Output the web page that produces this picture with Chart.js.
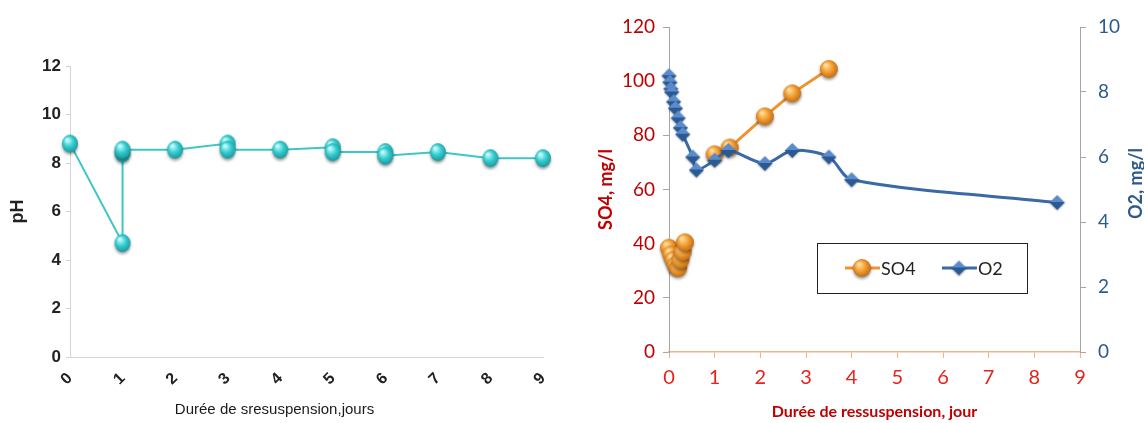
<!DOCTYPE html>
<html lang="fr">
<head>
<meta charset="UTF-8">
<title>pH, SO4 et O2 pendant la ressuspension</title>
<script src="https://cdn.jsdelivr.net/npm/chart.js"></script>
<style>
    html, body { margin: 0; padding: 0; background: #fff; }
    body { width: 1144px; height: 423px; position: relative; overflow: hidden; }
    .graph { position: absolute; top: 0; height: 423px; }
    #g1 { left: 0; width: 570px; }
    #g2 { left: 570px; width: 574px; }
</style>
</head>
<body>
<div class="graph" id="g1"><canvas id="graphique-ph"></canvas></div>
<div class="graph" id="g2"><canvas id="graphique-so4-o2"></canvas></div>
<script>
    // Données : pH
    const joursPh = [0, 1, 1, 1, 2, 3, 3, 4, 5, 5, 6, 6, 7, 8, 9];
    const valeursPh = [8.8, 4.7, 8.4, 8.55, 8.55, 8.8, 8.55, 8.55, 8.65, 8.45, 8.45, 8.3, 8.45, 8.2, 8.2];
    const ticksPh = [0, 2, 4, 6, 8, 10, 12];

    // Données : SO4 (null = coupure de la courbe)
    const joursSO4 = [0, 0.05, 0.1, 0.15, 0.2, 0.25, 0.3, 0.35, 0.6, 1.0, 1.33, 2.1, 2.7, 3.5];
    const valeursSO4 = [38.5, 36, 34, 32, 31, 34, 37, 40.5, null, 73, 75.5, 87, 95.5, 104.5];

    // Données : O2
    const joursO2 = [0, 0.02, 0.04, 0.06, 0.1, 0.14, 0.2, 0.25, 0.3, 0.52, 0.6, 1.0, 1.3, 2.1, 2.7, 3.5, 4.0, 8.5];
    const valeursO2 = [8.5, 8.3, 8.1, 8.0, 7.7, 7.5, 7.2, 6.9, 6.7, 6.0, 5.6, 5.9, 6.2, 5.8, 6.2, 6.0, 5.3, 4.6];

    const etiquettesLegende = ["SO4", "O2"];

    // Marqueurs : petites images dessinées une fois
    function creerSphere(largeur, hauteur, clair, moyen, fonce) {
        const marge = 4;
        const c = document.createElement("canvas");
        c.width = largeur + 2 * marge;
        c.height = hauteur + 2 * marge;
        const ctx = c.getContext("2d");
        const cx = c.width / 2, cy = c.height / 2;
        ctx.shadowColor = "rgba(0,0,0,0.4)";
        ctx.shadowBlur = 3;
        ctx.shadowOffsetY = 2;
        const g = ctx.createRadialGradient(cx - largeur * 0.18, cy - hauteur * 0.22, 0.5, cx, cy, Math.max(largeur, hauteur) * 0.6);
        g.addColorStop(0, clair);
        g.addColorStop(0.45, moyen);
        g.addColorStop(1, fonce);
        ctx.fillStyle = g;
        ctx.beginPath();
        ctx.ellipse(cx, cy, largeur / 2, hauteur / 2, 0, 0, Math.PI * 2);
        ctx.fill();
        return c;
    }

    function creerLosange(largeur, hauteur, haut, bas) {
        const marge = 4;
        const c = document.createElement("canvas");
        c.width = largeur + 2 * marge;
        c.height = hauteur + 2 * marge;
        const ctx = c.getContext("2d");
        const cx = c.width / 2, cy = c.height / 2;
        ctx.shadowColor = "rgba(0,0,0,0.3)";
        ctx.shadowBlur = 2;
        ctx.shadowOffsetY = 1;
        const g = ctx.createLinearGradient(0, cy - hauteur / 2, 0, cy + hauteur / 2);
        g.addColorStop(0, haut);
        g.addColorStop(0.5, haut);
        g.addColorStop(0.5, bas);
        g.addColorStop(1, bas);
        ctx.fillStyle = g;
        ctx.beginPath();
        ctx.moveTo(cx, cy - hauteur / 2);
        ctx.lineTo(cx + largeur / 2, cy);
        ctx.lineTo(cx, cy + hauteur / 2);
        ctx.lineTo(cx - largeur / 2, cy);
        ctx.closePath();
        ctx.fill();
        return c;
    }

    const sphereCyan = creerSphere(16, 18, "#d0ffff", "#36cdd0", "#10868c");
    const sphereOrange = creerSphere(18, 18, "#ffe3a8", "#f5a035", "#b35e0c");
    const losangeBleu = creerLosange(15, 15, "#5a8bcb", "#2b5993");

    function points(xs, ys) {
        return xs.map((x, i) => ({ x: x, y: ys[i] }));
    }

    // Titre de l'axe x du graphique pH (décalé vers la gauche comme l'original)
    const titrePh = {
        id: "titrePh",
        afterDraw(chart) {
            const { ctx, chartArea: a } = chart;
            ctx.save();
            ctx.font = "15px 'Liberation Sans', Arial, sans-serif";
            ctx.fillStyle = "#1a1a1a";
            ctx.textAlign = "center";
            ctx.textBaseline = "middle";
            ctx.fillText("Durée de sresuspension,jours", (a.left + a.right) / 2 - 32, 410);
            ctx.restore();
        }
    };

    // Graphique 1 : pH
    new Chart(document.getElementById("graphique-ph"), {
        type: "scatter",
        data: {
            datasets: [{
                data: points(joursPh, valeursPh),
                showLine: true,
                borderColor: "#3cc6c6",
                borderWidth: 2,
                pointStyle: sphereCyan,
                pointRadius: 8,
                clip: false,
            }],
        },
        options: {
            responsive: true,
            maintainAspectRatio: false,
            animation: false,
            layout: { padding: { top: 66, right: 27, left: 0, bottom: 0 } },
            plugins: { legend: { display: false }, tooltip: { enabled: false } },
            scales: {
                x: {
                    type: "linear",
                    min: 0,
                    max: 9,
                    afterFit: s => { s.height = 66; },
                    ticks: {
                        stepSize: 1,
                        minRotation: 45,
                        maxRotation: 45,
                        padding: 12,
                        color: "#222",
                        font: { family: "'Liberation Sans', sans-serif", size: 16, weight: "bold" },
                    },
                    grid: { drawOnChartArea: false, drawTicks: false },
                    border: { color: "#d4d4d4", width: 1 },
                },
                y: {
                    min: 0,
                    max: 12,
                    afterFit: s => { s.width = 70; },
                    afterBuildTicks: s => { s.ticks = ticksPh.map(v => ({ value: v })); },
                    ticks: {
                        padding: 5,
                        color: "#222",
                        font: { family: "'Liberation Sans Narrow', 'Liberation Sans', sans-serif", size: 17, weight: "bold" },
                    },
                    grid: { drawOnChartArea: false, tickLength: 4, color: "#d4d4d4" },
                    border: { color: "#d4d4d4", width: 1 },
                    title: {
                        display: true,
                        text: "pH",
                        color: "#222",
                        padding: { top: 7, bottom: 0 },
                        font: { family: "'Liberation Sans', Arial, sans-serif", size: 18, weight: "bold" },
                    },
                },
            },
        },
        plugins: [titrePh],
    });

    // Légende et titre de l'axe O2 du graphique 2
    const legendeSO4O2 = {
        id: "legendeSO4O2",
        afterDraw(chart) {
            const { ctx, chartArea: a } = chart;
            const w = a.right - a.left, h = a.bottom - a.top;
            const x0 = a.left + 0.36 * w, x1 = a.left + 0.871 * w;
            const y0 = a.top + 0.665 * h, y1 = a.top + 0.818 * h;
            const yc = (y0 + y1) / 2;
            ctx.save();
            ctx.fillStyle = "#fff";
            ctx.fillRect(x0, y0, x1 - x0, y1 - y0);
            ctx.strokeStyle = "#222";
            ctx.lineWidth = 1;
            ctx.strokeRect(Math.round(x0) + 0.5, Math.round(y0) + 0.5, Math.round(x1 - x0), Math.round(y1 - y0));
            ctx.font = "18px Lato, sans-serif";
            ctx.textBaseline = "middle";
            const decalages = [28, 125];
            chart.data.datasets.forEach((ds, i) => {
                const d = x0 + decalages[i];
                ctx.strokeStyle = ds.borderColor;
                ctx.lineWidth = 3;
                ctx.beginPath();
                ctx.moveTo(d, yc);
                ctx.lineTo(d + 35, yc);
                ctx.stroke();
                const img = ds.pointStyle;
                ctx.drawImage(img, d + 17 - img.width / 2, yc - img.height / 2);
                ctx.fillStyle = "#222";
                ctx.fillText(etiquettesLegende[i], d + 36, yc + 1);
            });
            // titre de l'axe de droite, lu de bas en haut
            ctx.translate(chart.width - 8, (a.top + a.bottom) / 2 - 6);
            ctx.rotate(-Math.PI / 2);
            ctx.textAlign = "center";
            ctx.fillStyle = "#2c5a8e";
            ctx.font = "bold 18px Lato, sans-serif";
            ctx.fillText("O2, mg/l", 0, 0);
            ctx.restore();
        }
    };

    // Graphique 2 : SO4 et O2
    new Chart(document.getElementById("graphique-so4-o2"), {
        type: "scatter",
        data: {
            datasets: [{
                label: "SO4",
                data: points(joursSO4, valeursSO4),
                yAxisID: "y",
                showLine: true,
                spanGaps: false,
                borderColor: "#ef9330",
                borderWidth: 3,
                pointStyle: sphereOrange,
                pointRadius: 9,
                clip: false,
                order: 1,
            }, {
                label: "O2",
                data: points(joursO2, valeursO2),
                yAxisID: "y1",
                showLine: true,
                tension: 0.3,
                borderColor: "#3a69a7",
                borderWidth: 3,
                pointStyle: losangeBleu,
                pointRadius: 8,
                clip: false,
                order: 0,
            }],
        },
        options: {
            responsive: true,
            maintainAspectRatio: false,
            animation: false,
            layout: { padding: { top: 27, right: 0, left: 0, bottom: 0 } },
            plugins: { legend: { display: false }, tooltip: { enabled: false } },
            scales: {
                x: {
                    type: "linear",
                    min: 0,
                    max: 9,
                    afterFit: s => { s.height = 71; },
                    ticks: {
                        stepSize: 1,
                        maxRotation: 0,
                        padding: 8,
                        color: "#e8231c",
                        font: { family: "Lato, sans-serif", size: 20 },
                    },
                    grid: { drawOnChartArea: false, tickLength: 6, color: "#f4b183" },
                    border: { color: "#f4b183", width: 1.5 },
                    title: {
                        display: true,
                        text: "Durée de ressuspension, jour",
                        color: "#c00000",
                        padding: { top: 0, bottom: 2 },
                        font: { family: "Lato, sans-serif", size: 16, weight: "bold" },
                    },
                },
                y: {
                    position: "left",
                    min: 0,
                    max: 120,
                    afterFit: s => { s.width = 99; },
                    ticks: {
                        stepSize: 20,
                        padding: 8,
                        color: "#c00000",
                        font: { family: "Lato, sans-serif", size: 19 },
                    },
                    grid: { drawOnChartArea: false, tickLength: 6, color: "#a6a6a6" },
                    border: { color: "#a6a6a6", width: 1 },
                    title: {
                        display: true,
                        text: "SO4, mg/l",
                        color: "#c00000",
                        padding: { top: 25, bottom: 0 },
                        font: { family: "Lato, sans-serif", size: 18, weight: "bold" },
                    },
                },
                y1: {
                    position: "right",
                    min: 0,
                    max: 10,
                    afterFit: s => { s.width = 64; },
                    ticks: {
                        stepSize: 2,
                        padding: 12,
                        color: "#2c5a8e",
                        font: { family: "Lato, sans-serif", size: 19 },
                    },
                    grid: { drawOnChartArea: false, tickLength: 6, color: "#a6a6a6" },
                    border: { color: "#a6a6a6", width: 1 },
                },
            },
        },
        plugins: [legendeSO4O2],
    });
</script>
</body>
</html>
